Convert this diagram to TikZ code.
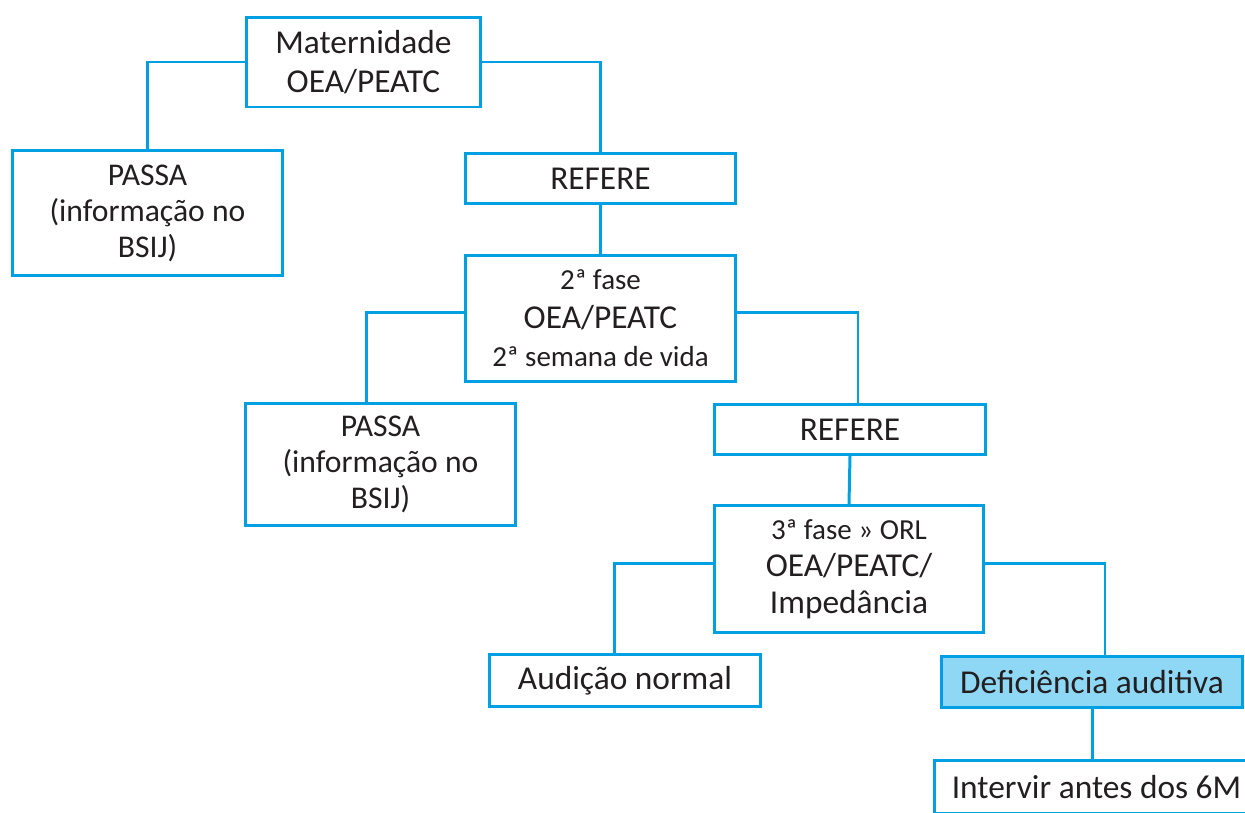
\documentclass[tikz,border=0pt]{standalone}
\usepackage{fontspec}
\setmainfont{Carlito}
\definecolor{boxblue}{RGB}{0,160,226}
\definecolor{boxfill}{RGB}{143,216,245}
\definecolor{txtgray}{RGB}{35,31,32}

\begin{document}
\begin{tikzpicture}[x=0.02cm, y=-0.02cm,
    box/.style={draw=boxblue, line width=1.7pt, align=center, inner sep=0pt, text=txtgray, font=\fontsize{19}{22}\selectfont},
    link/.style={draw=boxblue, line width=1.7pt}]

    % Page frame
    \useasboundingbox (0,0) rectangle (1245,812);
    \clip (0,0) rectangle (1245,812);

    % First stage
    \node[box, minimum width=4.70cm, minimum height=1.80cm] (mat) at (363.5,62) {Maternidade\\OEA/PEATC};
    \node[box, minimum width=5.40cm, minimum height=2.50cm, font=\fontsize{18}{20.5}\selectfont] (pas1) at (147.5,213) {PASSA\\(informação no\\BSIJ)};
    \node[box, minimum width=5.40cm, minimum height=1.00cm] (ref1) at (600.5,178.5) {REFERE};

    % Second stage
    \node[box, minimum width=5.40cm, minimum height=2.52cm, font=\fontsize{16.5}{22}\selectfont] (fase2) at (600.5,318.5)
        {2ª fase\\{\fontsize{19}{22}\selectfont OEA/PEATC}\\2ª semana de vida};
    \node[box, minimum width=5.40cm, minimum height=2.44cm, font=\fontsize{18}{20.5}\selectfont] (pas2) at (380.5,464.5) {PASSA\\(informação no\\BSIJ)};
    \node[box, minimum width=5.42cm, minimum height=1.00cm] (ref2) at (850,429.5) {REFERE};

    % Third stage
    \node[box, minimum width=5.40cm, minimum height=2.54cm, font=\fontsize{16.5}{21}\selectfont] (fase3) at (849,569)
        {3ª fase » ORL\\{\fontsize{19}{21.5}\selectfont OEA/PEATC/}\\{\fontsize{19}{21.5}\selectfont Impedância}};
    \node[box, minimum width=5.42cm, minimum height=1.04cm] (normal) at (625,680.5) {Audição normal};
    \node[box, fill=boxfill, minimum width=6.02cm, minimum height=1.02cm] (defic) at (1092,682) {Deficiência auditiva};
    \node[box, minimum width=6.50cm, minimum height=1.06cm] (interv) at (1096.5,787) {Intervir antes dos 6M};

    % Connectors
    \draw[link] (mat.west) -| (pas1.north);
    \draw[link] (mat.east) -| (ref1.north);
    \draw[link] (ref1.south) -- (fase2.north);
    \draw[link] ([yshift=0.12cm]fase2.west) -| ([xshift=-0.28cm]pas2.north);
    \draw[link] ([yshift=0.12cm]fase2.east) -| ([xshift=0.16cm]ref2.north);
    \draw[link] (ref2.south) -- (fase3.north);
    \draw[link] ([yshift=0.12cm]fase3.west) -| ([xshift=-0.22cm]normal.north);
    \draw[link] ([yshift=0.12cm]fase3.east) -| ([xshift=0.26cm]defic.north);
    \draw[link] (defic.south) -- (defic.south |- interv.north);

\end{tikzpicture}
\end{document}
